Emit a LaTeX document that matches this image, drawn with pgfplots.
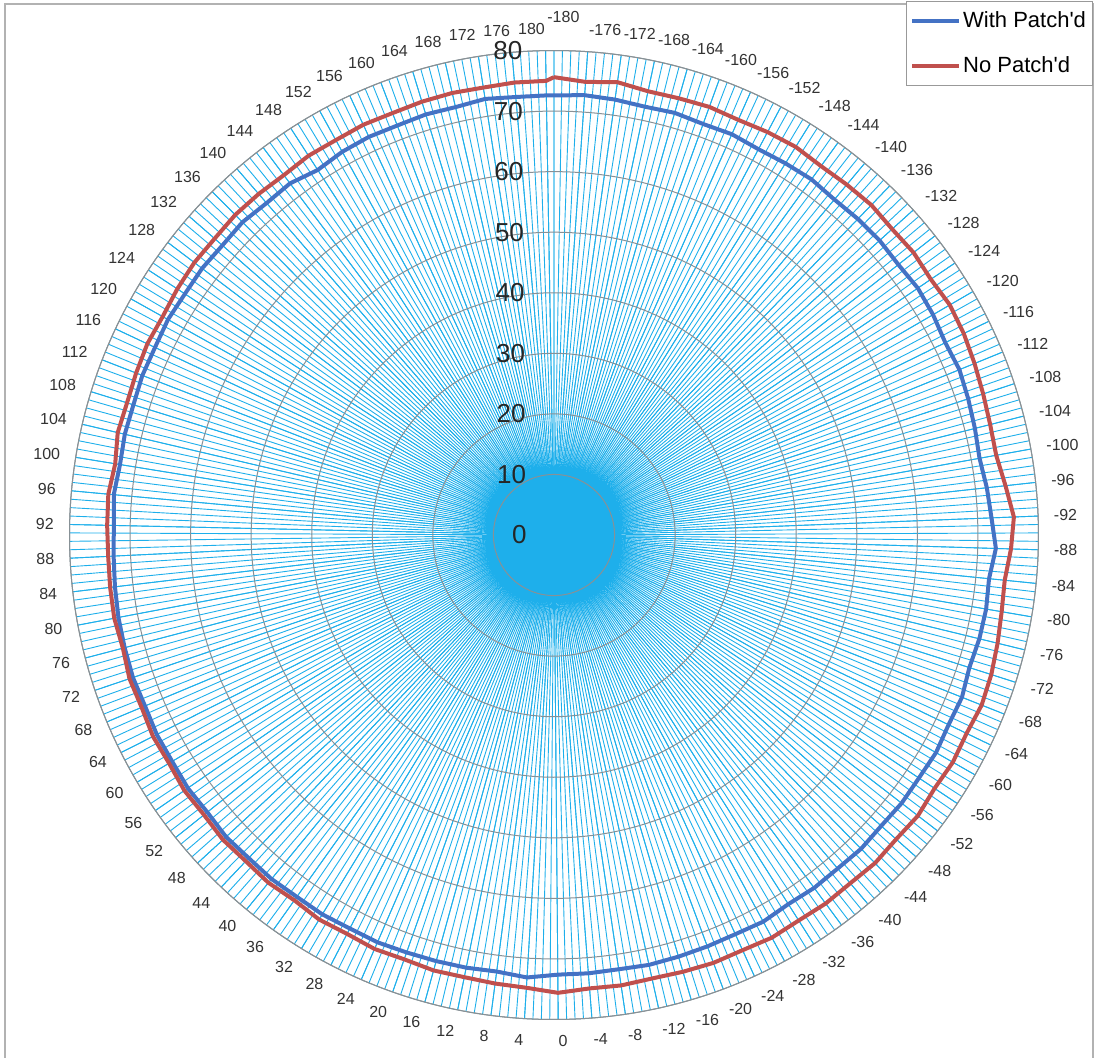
\documentclass[border=0pt]{standalone}
\usepackage{fontspec}
\setmainfont{Liberation Sans}
\newfontfamily\plainsans{Liberation Sans}
\usepackage{pgfplots}
\pgfplotsset{compat=1.18}
\usepgfplotslibrary{polar}
\usepackage{pgfplotstable}
\definecolor{spoke}{RGB}{30,175,235}
\definecolor{ringc}{RGB}{135,145,150}
\definecolor{wpblue}{RGB}{68,114,196}
\definecolor{npred}{RGB}{192,80,77}

\pgfplotstableread{
d np wp
-180 75.6 72.6
-176 75.0 72.8
-172 75.5 72.6
-168 74.9 72.3
-164 75.0 72.5
-160 75.2 72.2
-156 75.0 72.4
-152 75.3 72.1
-148 75.5 72.3
-144 75.2 72.5
-140 75.4 72.2
-136 75.6 72.4
-132 75.3 72.5
-128 75.5 72.3
-124 75.2 72.6
-120 75.6 72.4
-116 75.4 72.0
-112 75.0 72.3
-108 74.6 72.0
-104 74.3 71.7
-100 74.2 71.4
-96 75.0 71.9
-92 76.0 72.3
-88 75.5 73.0
-84 74.8 72.2
-80 75.0 72.4
-76 75.4 72.3
-72 75.8 72.0
-68 76.0 72.5
-64 75.6 72.3
-60 75.8 72.6
-56 75.5 72.4
-52 75.9 72.5
-48 75.6 72.3
-44 75.8 72.5
-40 75.5 72.3
-36 75.6 72.4
-32 75.4 72.2
-28 75.6 72.6
-24 75.3 72.4
-20 75.4 72.5
-16 75.2 72.6
-12 75.0 72.7
-8 75.2 72.5
-4 75.1 72.6
0 75.6 72.6
4 74.9 73.2
8 74.7 72.7
12 74.5 72.9
16 74.6 73.0
20 74.3 73.1
24 74.5 73.3
28 74.2 73.2
32 74.4 73.4
36 74.0 73.3
40 74.3 73.5
44 74.1 73.4
48 74.3 73.6
52 74.0 73.3
56 74.2 73.5
60 73.9 73.3
64 74.1 73.4
68 73.8 73.2
72 74.0 73.4
76 73.6 73.3
80 73.9 73.2
84 73.8 73.0
88 73.7 72.8
92 73.8 72.7
96 73.9 73.0
100 73.4 72.6
104 74.0 72.8
108 73.8 72.7
112 74.0 72.9
116 74.2 72.8
120 74.0 73.0
124 74.3 72.8
128 74.5 72.9
132 74.4 72.7
136 74.6 72.9
140 74.5 72.5
144 74.3 72.6
148 74.6 71.8
152 74.5 72.3
156 74.7 72.5
160 74.6 72.4
164 74.8 72.6
168 74.9 72.5
172 74.8 72.9
176 75.0 72.6
180 75.0 72.6
181 75.6 72.6
}\data

\begin{document}
\begin{tikzpicture}
\path[use as bounding box] (-277pt,-261pt) rectangle (272.5pt,267.5pt);
\draw[gray!60, line width=0.7pt] (-274.5pt,-275pt) -- (-274.5pt,265.5pt) -- (269.5pt,265.5pt) -- (269.5pt,-275pt);
\begin{polaraxis}[
  at={(0pt,0pt)}, anchor=center,
  scale only axis, width=484.5pt, height=484.5pt,
  xmin=-269.5, xmax=90.5, ymin=0, ymax=80,
  xtick={90,86.01108,...,-269.01},
  minor xtick={90,89.00277,...,-269.01},
  xticklabels={{\hspace*{-3.5pt}\raisebox{12pt}{-180}},-176,-172,-168,-164,-160,-156,-152,-148,-144,-140,-136,-132,-128,-124,-120,-116,-112,-108,-104,-100,-96,-92,-88,-84,-80,-76,-72,-68,-64,-60,-56,-52,-48,-44,-40,-36,-32,-28,-24,-20,-16,-12,-8,-4,0,4,8,12,16,20,24,28,32,36,40,44,48,52,56,60,64,68,72,76,80,84,88,92,96,100,104,108,112,116,120,124,128,132,136,140,144,148,152,156,160,164,168,172,176,180},
  ytick={0,10,...,80},
  /pgf/number format/assume math mode=true,
  major tick length=0pt, minor tick length=0pt,
  xmajorgrids, xminorgrids, ymajorgrids,
  major x grid style={spoke, line width=0.45pt},
  minor x grid style={spoke, line width=0.45pt},
  major y grid style={ringc, line width=0.5pt},
  axis line style={ringc, line width=0.5pt},
  y axis line style={draw=none},
  xticklabel style={font=\fontsize{8}{9}\selectfont, text=black!80, inner sep=0pt,
     anchor={180*(cos(\tick)>-0.001)}, xshift={7.75pt*cos(\tick)}, yshift={10.65pt*sin(\tick)}},
  yticklabel style={font=\fontsize{13}{14}\selectfont, text=black!85, anchor=east, inner sep=0pt, xshift=-13.5pt},
  legend style={at={(1.053,1.048)}, anchor=north east, draw=gray!80, font=\plainsans\fontsize{11}{13}\selectfont, legend cell align=left, row sep=11pt, inner xsep=2pt, inner ysep=4pt, nodes={inner sep=1pt}},
  legend image code/.code={\draw[#1, line width=2pt] (0pt,0pt) -- (23.5pt,0pt);},
]
\addplot[wpblue, line width=2pt, mark=none] table[x expr={90-(\thisrow{d}+180)*360/361}, y=wp] {\data};
\addlegendentry{With Patch'd}
\addplot[npred, line width=2pt, mark=none] table[x expr={90-(\thisrow{d}+180)*360/361}, y=np] {\data};
\addlegendentry{No Patch'd}
\end{polaraxis}
\end{tikzpicture}
\end{document}
